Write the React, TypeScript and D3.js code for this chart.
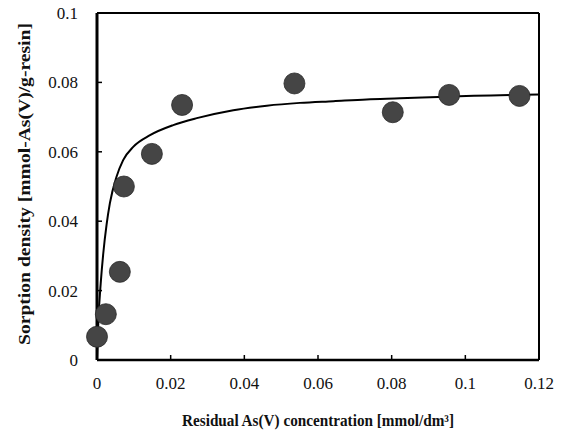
import React from "react";
import * as d3 from "d3";

const xTicks = [0, 0.02, 0.04, 0.06, 0.08, 0.1, 0.12];
const yTicks = [0, 0.02, 0.04, 0.06, 0.08, 0.1];
const xTickLabels = ["0", "0.02", "0.04", "0.06", "0.08", "0.1", "0.12"];
const yTickLabels = ["0", "0.02", "0.04", "0.06", "0.08", "0.1"];

const pointX = [0.0, 0.0024, 0.0062, 0.0073, 0.0149, 0.0231, 0.0536, 0.0803, 0.0956, 0.1147];
const pointY = [0.0067, 0.0132, 0.0254, 0.050, 0.0594, 0.0735, 0.0797, 0.0714, 0.0764, 0.0761];

const curveX = [0, 0.0004, 0.001, 0.0017, 0.0026, 0.0035, 0.0053, 0.0071, 0.0099, 0.0144, 0.0207, 0.0271, 0.037, 0.0461, 0.0551, 0.0642, 0.0732, 0.0823, 0.0949, 0.12];
const curveY = [0, 0.012, 0.022, 0.0307, 0.039, 0.0452, 0.0528, 0.0576, 0.0615, 0.0648, 0.0677, 0.0697, 0.0720, 0.0733, 0.0741, 0.0746, 0.0751, 0.0754, 0.0759, 0.0765];

const xTitle = "Residual As(V) concentration [mmol/dm³]";
const yTitle = "Sorption density [mmol-As(V)/g-resin]";

export default function App() {
  const W = 567, H = 432;
  const left = 97, right = 539, top = 13, bottom = 360;
  const x = d3.scaleLinear().domain([0, 0.12]).range([left, right]);
  const y = d3.scaleLinear().domain([0, 0.1]).range([bottom, top]);
  const line = d3
    .line<number>()
    .x((_, i) => x(curveX[i]))
    .y((_, i) => y(curveY[i]))
    .curve(d3.curveMonotoneX);
  const serif = "'Liberation Serif', 'DejaVu Serif', serif";
  return (
    <svg width={W} height={H} style={{ position: "absolute", left: 0, top: 0, background: "#fff" }}>
      <rect x={0} y={0} width={W} height={H} fill="#fff" />
      {/* ticks */}
      {xTicks.slice(1, -1).map((t, i) => (
        <line key={"xt" + i} x1={x(t)} x2={x(t)} y1={bottom} y2={bottom - 5} stroke="#000" strokeWidth={1.5} />
      ))}
      {yTicks.slice(1, -1).map((t, i) => (
        <line key={"yt" + i} x1={left} x2={left + 5} y1={y(t)} y2={y(t)} stroke="#000" strokeWidth={1.5} />
      ))}
      {/* frame */}
      <line x1={left} x2={right} y1={top} y2={top} stroke="#000" strokeWidth={2} />
      <line x1={right} x2={right} y1={top} y2={bottom} stroke="#000" strokeWidth={2} />
      <line x1={left} x2={right} y1={bottom} y2={bottom} stroke="#000" strokeWidth={2.5} />
      <line x1={left} x2={left} y1={top} y2={bottom} stroke="#000" strokeWidth={3} />
      {/* curve */}
      <path d={line(curveX) || ""} fill="none" stroke="#000" strokeWidth={2} />
      {/* points */}
      {pointX.map((v, i) => (
        <circle key={"p" + i} cx={x(v)} cy={y(pointY[i])} r={10.5} fill="#454545" stroke="#2a2a2a" strokeWidth={0.8} />
      ))}
      {/* tick labels */}
      {xTicks.map((t, i) => (
        <text key={"xl" + i} x={x(t)} y={389} textAnchor="middle" fontFamily={serif} fontSize={17} fill="#111">
          {xTickLabels[i]}
        </text>
      ))}
      {yTicks.map((t, i) => (
        <text key={"yl" + i} x={78} y={y(t) + 6} textAnchor="end" fontFamily={serif} fontSize={17} fill="#111">
          {yTickLabels[i]}
        </text>
      ))}
      {/* axis titles */}
      <text
        x={318}
        y={426}
        textAnchor="middle"
        fontFamily={serif}
        fontSize={16}
        fontWeight="bold"
        fill="#111"
        textLength={272}
        lengthAdjust="spacingAndGlyphs"
      >
        {xTitle}
      </text>
      <text
        transform={`translate(30, 184) rotate(-90)`}
        textAnchor="middle"
        fontFamily={serif}
        fontSize={16}
        fontWeight="bold"
        fill="#111"
        textLength={322}
        lengthAdjust="spacingAndGlyphs"
      >
        {yTitle}
      </text>
    </svg>
  );
}
